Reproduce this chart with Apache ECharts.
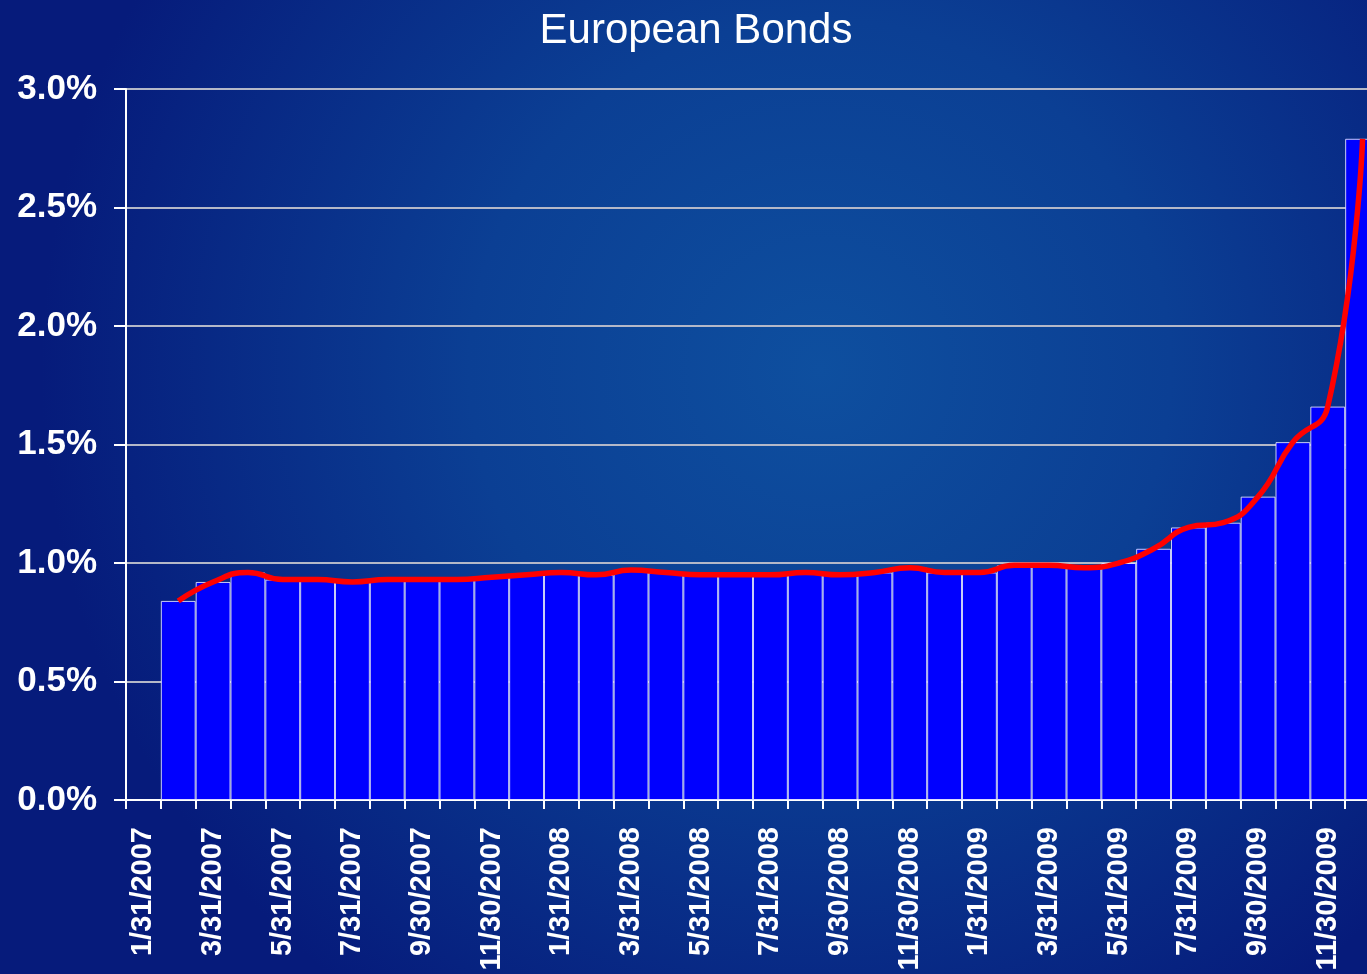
<!DOCTYPE html>
<html>
<head>
<meta charset="utf-8">
<title>European Bonds</title>
<script src="https://cdn.jsdelivr.net/npm/echarts@6/dist/echarts.min.js"></script>
<style>
  html, body { margin: 0; padding: 0; background: #0a2f8c; }
  #chart { width: 1367px; height: 974px; }
</style>
</head>
<body>
<div id="chart"></div>
<script>
// Month-end dates, Jan 2007 – Dec 2009
const months = [
  '1/31/2007', '2/28/2007', '3/31/2007', '4/30/2007', '5/31/2007', '6/30/2007',
  '7/31/2007', '8/31/2007', '9/30/2007', '10/31/2007', '11/30/2007', '12/31/2007',
  '1/31/2008', '2/29/2008', '3/31/2008', '4/30/2008', '5/31/2008', '6/30/2008',
  '7/31/2008', '8/31/2008', '9/30/2008', '10/31/2008', '11/30/2008', '12/31/2008',
  '1/31/2009', '2/28/2009', '3/31/2009', '4/30/2009', '5/31/2009', '6/30/2009',
  '7/31/2009', '8/31/2009', '9/30/2009', '10/31/2009', '11/30/2009', '12/31/2009'
];

// Monthly values, in percent (no value for January 2007)
const bondValues = [
  null, 0.84, 0.92, 0.96, 0.93, 0.93,
  0.92, 0.93, 0.93, 0.93, 0.94, 0.95,
  0.96, 0.95, 0.97, 0.96, 0.95, 0.95,
  0.95, 0.96, 0.95, 0.96, 0.98, 0.96,
  0.96, 0.99, 0.99, 0.98, 1.00, 1.06,
  1.15, 1.17, 1.28, 1.51, 1.66, 2.79
];

// Value axis range and step, in percent
const yMin = 0;
const yMax = 3;
const yStep = 0.5;

const chart = echarts.init(document.getElementById('chart'), null, { renderer: 'canvas' });

chart.setOption({
  animation: false,
  backgroundColor: {
    type: 'radial', x: 0.6, y: 0.38, r: 0.8,
    colorStops: [
      { offset: 0, color: '#0e4f9f' },
      { offset: 0.45, color: '#0b3f94' },
      { offset: 1, color: '#061b7b' }
    ]
  },
  title: {
    text: 'European Bonds',
    left: 691,
    top: 5,
    textAlign: 'center',
    textStyle: {
      color: '#ffffff',
      fontFamily: 'Liberation Sans, Arial, sans-serif',
      fontWeight: 'normal',
      fontSize: 42
    }
  },
  grid: {
    left: 126,
    top: 89,
    width: 1254,
    height: 711,
    containLabel: false,
    outerBoundsMode: 'none'
  },
  xAxis: {
    type: 'category',
    data: months,
    boundaryGap: true,
    axisLine: { lineStyle: { color: '#ffffff', width: 2 } },
    axisTick: { show: true, interval: 0, length: 9, lineStyle: { color: '#ffffff', width: 2 } },
    axisLabel: {
      interval: 1,
      rotate: 90,
      margin: 27,
      color: '#ffffff',
      fontFamily: 'Liberation Sans, Arial, sans-serif',
      fontWeight: 'bold',
      fontSize: 29
    },
    splitLine: { show: false }
  },
  yAxis: {
    type: 'value',
    min: yMin,
    max: yMax,
    interval: yStep,
    axisLine: { show: true, lineStyle: { color: '#ffffff', width: 2 } },
    axisTick: { show: true, length: 12, lineStyle: { color: '#ffffff', width: 2 } },
    axisLabel: {
      margin: 29,
      color: '#ffffff',
      fontFamily: 'Liberation Sans, Arial, sans-serif',
      fontWeight: 'bold',
      fontSize: 35,
      formatter: v => v.toFixed(1) + '%'
    },
    splitLine: { show: true, lineStyle: { color: '#b4b8c8', width: 2 } }
  },
  series: [
    {
      name: 'Bars',
      type: 'bar',
      data: bondValues,
      barCategoryGap: '0%',
      itemStyle: {
        color: '#0000ff',
        borderColor: 'rgba(235,235,255,0.85)',
        borderWidth: 1
      },
      z: 2
    },
    {
      name: 'Trend',
      type: 'line',
      data: bondValues,
      smooth: 0.5,
      symbol: 'none',
      lineStyle: { color: '#ff0000', width: 5.5 },
      z: 3
    }
  ]
});
</script>
</body>
</html>
